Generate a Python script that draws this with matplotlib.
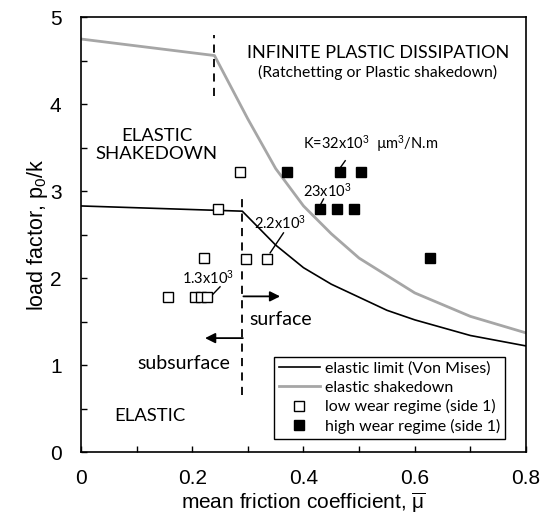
import matplotlib
matplotlib.use("Agg")
import matplotlib.pyplot as plt

plt.rcParams['font.family'] = ['Liberation Sans', 'DejaVu Sans']
plt.rcParams['mathtext.fontset'] = 'custom'
plt.rcParams['mathtext.rm'] = 'Liberation Sans'
plt.rcParams['mathtext.it'] = 'Liberation Sans'
plt.rcParams['mathtext.bf'] = 'Liberation Sans'

# elastic limit (Von Mises)
el_x = [0, 0.29, 0.35, 0.4, 0.45, 0.5, 0.55, 0.6, 0.7, 0.8]
el_y = [2.83, 2.77, 2.38, 2.12, 1.93, 1.78, 1.63, 1.52, 1.34, 1.22]
# elastic shakedown
sd_x = [0, 0.24, 0.3, 0.35, 0.4, 0.45, 0.5, 0.6, 0.7, 0.8]
sd_y = [4.75, 4.56, 3.83, 3.26, 2.83, 2.51, 2.23, 1.83, 1.56, 1.37]
# low wear regime
low_x = [0.156, 0.205, 0.215, 0.226, 0.221, 0.297, 0.334, 0.246, 0.285]
low_y = [1.78, 1.78, 1.78, 1.78, 2.23, 2.22, 2.22, 2.79, 3.22]
# high wear regime
high_x = [0.37, 0.465, 0.503, 0.43, 0.46, 0.491, 0.628]
high_y = [3.22, 3.22, 3.22, 2.80, 2.80, 2.80, 2.23]

ann_font = ['Lato', 'DejaVu Sans']

fig = plt.figure(figsize=(5.42, 5.27), dpi=100)
ax = fig.add_axes([0.1494, 0.1423, 0.8211, 0.8249])

ax.plot(el_x, el_y, color='black', lw=1.2, label='elastic limit (Von Mises)', zorder=3)
ax.plot(sd_x, sd_y, color='#a6a6a6', lw=2.0, label='elastic shakedown', zorder=2)
ax.plot(low_x, low_y, ls='none', marker='s', ms=7.5, mfc='white', mec='black', mew=1.0,
        label='low wear regime (side 1)', zorder=4)
ax.plot(high_x, high_y, ls='none', marker='s', ms=7.5, mfc='black', mec='black', mew=1.0,
        label='high wear regime (side 1)', zorder=4)

# dashed boundaries
ax.plot([0.24, 0.24], [4.09, 4.8], color='black', lw=1.3, ls=(0, (4.5, 3.5)), zorder=3)
ax.plot([0.29, 0.29], [0.66, 2.94], color='black', lw=1.3, ls=(0, (4.5, 3.5)), zorder=3)

# arrows
ax.annotate('', xy=(0.358, 1.79), xytext=(0.292, 1.79),
            arrowprops=dict(arrowstyle='-|>', color='black', lw=1.3, mutation_scale=15, shrinkA=0, shrinkB=0))
ax.annotate('', xy=(0.223, 1.31), xytext=(0.291, 1.31),
            arrowprops=dict(arrowstyle='-|>', color='black', lw=1.3, mutation_scale=15, shrinkA=0, shrinkB=0))

# region texts
ax.text(0.534, 4.59, 'INFINITE PLASTIC DISSIPATION', ha='center', va='center', fontsize=13, family=ann_font)
ax.text(0.534, 4.36, '(Ratchetting or Plastic shakedown)', ha='center', va='center', fontsize=11.3, family=ann_font)
ax.text(0.136, 3.53, 'ELASTIC\nSHAKEDOWN', ha='center', va='center', fontsize=13.3, family=ann_font, linespacing=1.2)
ax.text(0.124, 0.41, 'ELASTIC', ha='center', va='center', fontsize=13.3, family=ann_font)
ax.text(0.303, 1.52, 'surface', ha='left', va='center', fontsize=14, family=ann_font)
ax.text(0.269, 1.02, 'subsurface', ha='right', va='center', fontsize=14, family=ann_font)

# wear coefficient annotations
ax.text(0.358, 2.64, '2.2x10$^3$', ha='center', va='center', fontsize=10.5, family=ann_font)
ax.plot([0.364, 0.34], [2.52, 2.29], color='black', lw=1.0)
ax.text(0.229, 2.0, '1.3x10$^3$', ha='center', va='center', fontsize=10.5, family=ann_font)
ax.plot([0.25, 0.235], [1.90, 1.80], color='black', lw=1.0)
ax.text(0.442, 3.01, '23x10$^3$', ha='center', va='center', fontsize=10.5, family=ann_font)
ax.plot([0.436, 0.431], [2.91, 2.85], color='black', lw=1.0)
ax.text(0.40, 3.54, 'K=32x10$^3$  µm$^3$/N.m', ha='left', va='center', fontsize=10.5, family=ann_font)
ax.plot([0.475, 0.465], [3.35, 3.26], color='black', lw=1.0)

ax.set_xlim(0, 0.8)
ax.set_ylim(0, 5)
ax.set_xticks([0, 0.2, 0.4, 0.6, 0.8])
ax.set_xticklabels(['0', '0.2', '0.4', '0.6', '0.8'])
ax.set_xticks([0.1, 0.3, 0.5, 0.7], minor=True)
ax.set_yticks([0, 1, 2, 3, 4, 5])
ax.set_yticks([0.5, 1.5, 2.5, 3.5, 4.5], minor=True)
ax.tick_params(which='both', direction='in', top=False, right=False, labelsize=15, width=1.0)
ax.tick_params(which='major', length=4)
ax.tick_params(which='minor', length=4)
ax.tick_params(axis='x', which='major', pad=12)
ax.tick_params(axis='y', which='major', pad=14)
for s in ax.spines.values():
    s.set_linewidth(1.2)

ax.set_xlabel(r'mean friction coefficient, $\overline{\mu}$', fontsize=15, labelpad=2)
ax.set_ylabel('load factor, p$_0$/k', fontsize=15.5, labelpad=0)

leg = ax.legend(loc='lower right', bbox_to_anchor=(0.953, 0.031), borderaxespad=0,
                prop={'family': ann_font, 'size': 11.5}, handlelength=2.6, handletextpad=0.3,
                labelspacing=0.28, fancybox=False, edgecolor='black', framealpha=1,
                borderpad=0.3)
leg.get_frame().set_linewidth(1.0)

fig.savefig('out.png', dpi=100)
